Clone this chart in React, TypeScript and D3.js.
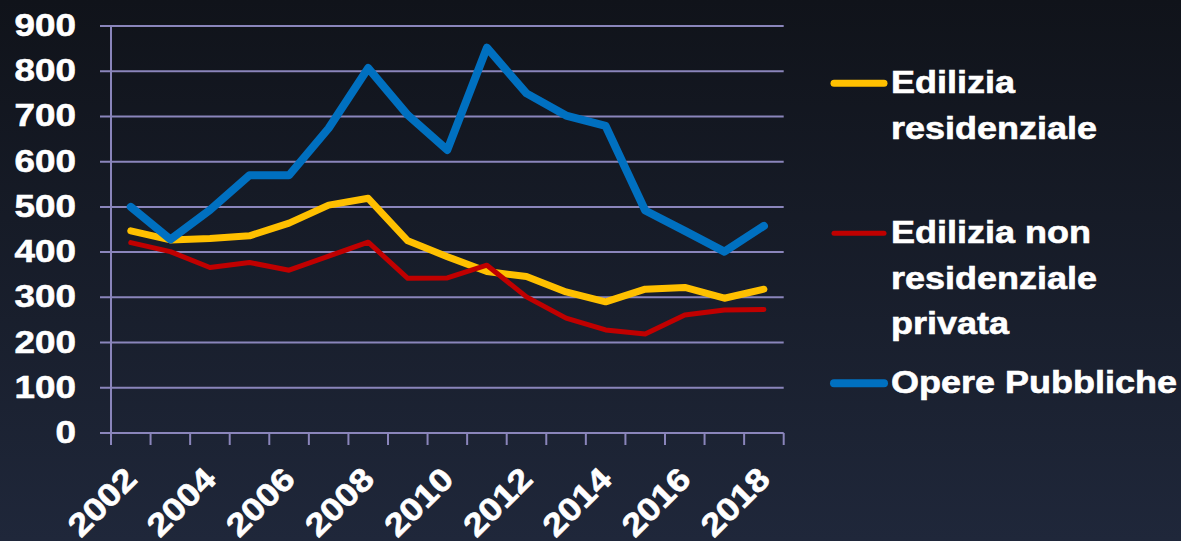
import React, { useRef, useEffect } from 'react';
import * as d3 from 'd3';

// anni e serie
const years = ['2002', '2003', '2004', '2005', '2006', '2007', '2008', '2009', '2010', '2011', '2012', '2013', '2014', '2015', '2016', '2017', '2018'];
const residenziale = [447, 427, 430, 436, 464, 504, 519, 425, 390, 357, 346, 312, 290, 318, 322, 298, 318];
const nonResidenziale = [421, 401, 366, 377, 360, 391, 422, 342, 343, 371, 301, 254, 228, 219, 261, 272, 273];
const operePubbliche = [500, 428, 493, 570, 570, 674, 807, 703, 626, 852, 751, 702, 679, 492, 447, 401, 458];
const yTicks = [0, 100, 200, 300, 400, 500, 600, 700, 800, 900];
const xLabels = ['2002', '2004', '2006', '2008', '2010', '2012', '2014', '2016', '2018'];

const seriesNames = [['Edilizia', 'residenziale'], ['Edilizia non', 'residenziale', 'privata'], ['Opere Pubbliche']];
const seriesValues = [residenziale, nonResidenziale, operePubbliche];

const App = () => {
  const ref = useRef<SVGSVGElement>(null);
  const width = 1181;
  const height = 541;

  useEffect(() => {
    const svg = d3.select(ref.current);
    svg.selectAll('*').remove();

    const font = "'Liberation Sans', Arial, sans-serif";
    const grid = '#8a85bb';
    const colors = ['#ffc000', '#c00000', '#0070c0'];
    const widths = [7, 5, 8];

    // sfondo sfumato
    const defs = svg.append('defs');
    const grad = defs.append('linearGradient')
      .attr('id', 'bg')
      .attr('x1', 0).attr('y1', 0).attr('x2', 0).attr('y2', 1);
    grad.append('stop').attr('offset', '0%').attr('stop-color', '#10131a');
    grad.append('stop').attr('offset', '100%').attr('stop-color', '#1f273a');
    svg.append('rect').attr('width', width).attr('height', height).attr('fill', 'url(#bg)');

    const x = d3.scaleBand().domain(years).range([111, 783.7]).padding(0);
    const y = d3.scaleLinear().domain([0, 900]).range([433, 26]);
    const cx = (d: string) => (x(d) as number) + x.bandwidth() / 2;

    // griglia orizzontale
    svg.append('g')
      .selectAll('line')
      .data(yTicks)
      .enter()
      .append('line')
      .attr('x1', 100)
      .attr('x2', x.range()[1])
      .attr('y1', d => y(d))
      .attr('y2', d => y(d))
      .attr('stroke', grid)
      .attr('stroke-width', 2);

    // asse verticale
    svg.append('line')
      .attr('x1', 111).attr('x2', 111)
      .attr('y1', y(900)).attr('y2', y(0) + 12)
      .attr('stroke', grid).attr('stroke-width', 2);

    // tacche asse x ai bordi delle bande
    const bounds = years.map(d => x(d) as number).concat([x.range()[1]]);
    svg.append('g')
      .selectAll('line')
      .data(bounds)
      .enter()
      .append('line')
      .attr('x1', d => d).attr('x2', d => d)
      .attr('y1', y(0)).attr('y2', y(0) + 12)
      .attr('stroke', grid).attr('stroke-width', 2);

    // etichette asse y
    svg.append('g')
      .selectAll('text')
      .data(yTicks)
      .enter()
      .append('text')
      .attr('transform', d => `translate(76, ${y(d) + 10}) scale(1.15, 1)`)
      .attr('text-anchor', 'end')
      .attr('font-family', font)
      .attr('font-weight', 'bold')
      .attr('font-size', 32)
      .attr('fill', '#fff')
      .attr('stroke', '#fff')
      .attr('stroke-width', 0.6)
      .text(d => d);

    // etichette asse x ruotate
    svg.append('g')
      .selectAll('text')
      .data(xLabels)
      .enter()
      .append('text')
      .attr('transform', d => `translate(${cx(d) + 8}, 481) rotate(-45) scale(1.15, 1)`)
      .attr('text-anchor', 'end')
      .attr('font-family', font)
      .attr('font-weight', 'bold')
      .attr('font-size', 32)
      .attr('fill', '#fff')
      .attr('stroke', '#fff')
      .attr('stroke-width', 0.6)
      .text(d => d);

    // linee delle serie
    const line = d3.line<number>()
      .x((d, i) => cx(years[i]))
      .y(d => y(d));

    seriesValues.forEach((vals, i) => {
      svg.append('path')
        .datum(vals)
        .attr('d', line)
        .attr('fill', 'none')
        .attr('stroke', colors[i])
        .attr('stroke-width', widths[i])
        .attr('stroke-linejoin', 'round')
        .attr('stroke-linecap', 'round');
    });

    // legenda
    const legendY = [83.3, 233.3, 383.3];
    const legend = svg.append('g');
    seriesNames.forEach((lines, i) => {
      legend.append('line')
        .attr('x1', 834).attr('x2', 884)
        .attr('y1', legendY[i]).attr('y2', legendY[i])
        .attr('stroke', colors[i])
        .attr('stroke-width', widths[i])
        .attr('stroke-linecap', 'round');
      lines.forEach((t, j) => {
        legend.append('text')
          .attr('transform', `translate(891, ${legendY[i] + 10 + j * 45.5}) scale(1.125, 1)`)
          .attr('font-family', font)
          .attr('font-weight', 'bold')
          .attr('font-size', 32)
          .attr('fill', '#fff')
          .attr('stroke', '#fff')
          .attr('stroke-width', 0.6)
          .text(t);
      });
    });
  }, []);

  return (
    <svg
      ref={ref}
      width={width}
      height={height}
      style={{ position: 'absolute', left: 0, top: 0, display: 'block' }}
    />
  );
};

export default App;
